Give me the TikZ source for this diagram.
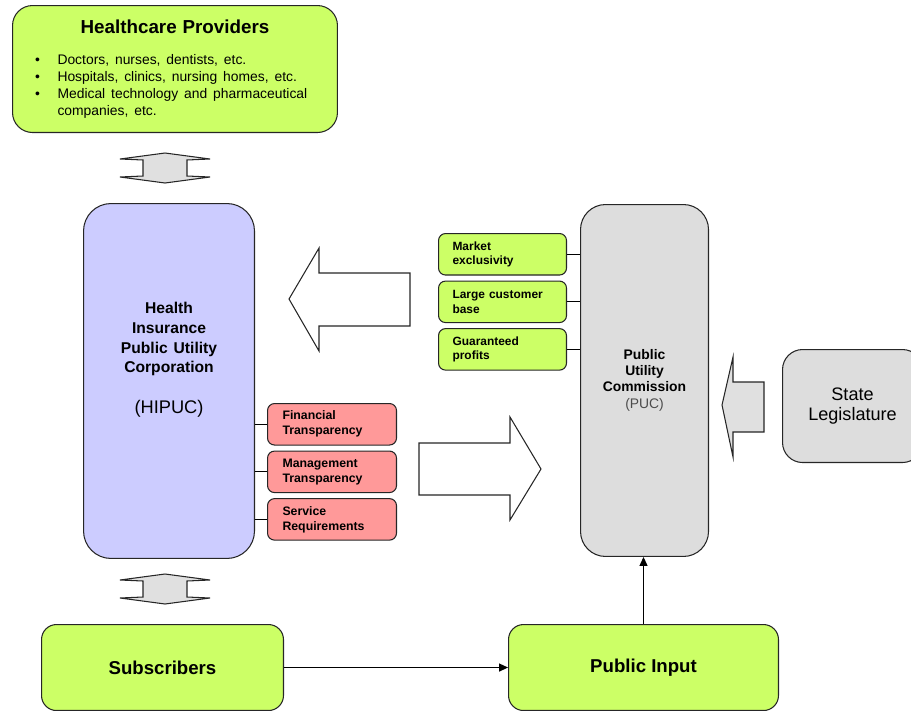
\documentclass[tikz,border=0pt]{standalone}
\usepackage{fontspec}
\setmainfont{Liberation Sans}
\usetikzlibrary{arrows.meta}
\usetikzlibrary{calc,positioning}

\definecolor{limegreen}{HTML}{CCFF66}
\definecolor{hipucblue}{HTML}{CCCCFF}
\definecolor{salmon}{HTML}{FF9999}
\definecolor{puccgray}{HTML}{DDDDDD}
\definecolor{shapegray}{HTML}{E0E0E0}

\begin{document}
\begin{tikzpicture}[x=0.02cm, y=-0.02cm,
        bigbox/.style={rectangle, draw=black!85, line width=0.6pt, rounded corners=0.4cm,
        anchor=north west, inner sep=0pt, text=black},
        smallbox/.style={rectangle, draw=black!85, line width=0.6pt, rounded corners=0.14cm,
        minimum height=0.83cm, inner ysep=0pt, align=left},
        greenbox/.style={smallbox, fill=limegreen, minimum width=2.56cm, text width=2.0cm,
        inner xsep=0.28cm, font=\fontsize{6.8}{8.2}\selectfont\bfseries},
        redbox/.style={smallbox, fill=salmon, minimum width=2.58cm, text width=1.98cm,
        inner xsep=0.3cm, font=\fontsize{7}{8.5}\selectfont\bfseries},
        fatarrow/.style={draw=black!85, line width=0.6pt, fill=white},
        dblarrow/.style={draw=black!85, line width=0.6pt, fill=shapegray},
        link/.style={draw=black, line width=0.6pt},
        node distance=0.1cm]
    \useasboundingbox (0,0) rectangle (911,710);
    \clip (0,0) rectangle (911,710);

    % providers
    \node [bigbox, fill=limegreen, minimum width=6.5cm, minimum height=2.54cm, text width=5.6cm] (prov) at (12,5)
    {
        {\centering\fontsize{10.7}{13}\selectfont\bfseries Healthcare Providers\par}
        \vspace{8pt}
        {\raggedright\fontsize{7.9}{9.6}\selectfont
        \makebox[0.45cm][l]{\textbullet}Doctors, nurses, dentists, etc.\par
        \makebox[0.45cm][l]{\textbullet}Hospitals, clinics, nursing homes, etc.\par
        \makebox[0.45cm][l]{\textbullet}Medical technology and pharmaceutical\\
        \hspace*{0.45cm}companies, etc.\par}
    };

    % corporation
    \node [bigbox, fill=hipucblue, rounded corners=0.55cm, minimum width=3.42cm, minimum height=7.1cm, text width=3.2cm] (hipuc) at (83,203)
    {
        {\centering\fontsize{8.9}{11.3}\selectfont\bfseries Health\\Insurance\\Public Utility\\Corporation\par}
        \vspace{11pt}
        {\centering\fontsize{10.4}{12}\selectfont (HIPUC)\par}
        \vspace*{0.86cm}
    };

    % commission
    \node [bigbox, fill=puccgray, rounded corners=0.5cm, minimum width=2.56cm, minimum height=7.04cm, align=center,
        font=\fontsize{7.9}{9.1}\selectfont\bfseries] (puc) at (580,204)
        {Public\\Utility\\Commission\\[0.5pt]{\mdseries\color{black!70}(PUC)}};

    \node [bigbox, fill=puccgray, minimum width=2.8cm, minimum height=2.26cm, align=center,
        font=\fontsize{10.3}{11.9}\selectfont] (legis) at (782,349) {State\\Legislature};

    \node [bigbox, fill=limegreen, rounded corners=0.3cm, minimum width=4.84cm, minimum height=1.72cm,
        font=\fontsize{10.6}{12}\selectfont\bfseries] (subs) at (41,624) {Subscribers};
    \node [bigbox, fill=limegreen, rounded corners=0.3cm, minimum width=5.4cm, minimum height=1.72cm,
        font=\fontsize{10.6}{12}\selectfont\bfseries] (pubin) at (508,624) {Public Input};

    % benefits and duties
    \node [greenbox, anchor=north west] (excl) at (438,233) {Market\\exclusivity};
    \node [greenbox, below=of excl] (base) {Large customer\\base};
    \node [greenbox, below=of base] (profit) {Guaranteed\\profits};

    \node [redbox, anchor=north west] (fin) at (267,403) {Financial\\Transparency};
    \node [redbox, below=of fin] (mgmt) {Management\\Transparency};
    \node [redbox, below=of mgmt] (serv) {Service\\Requirements};

    \foreach \n in {excl,base,profit} \draw [link] (\n.east) -- (\n.east -| puc.west);
    \foreach \n in {fin,mgmt,serv} \draw [link] (\n.west) -- (\n.west -| hipuc.east);

    % block arrows
    \draw [fatarrow] (289,299) -- (319,248) -- (319,273) -- (410,273) -- (410,326) -- (319,326) -- (319,351) -- cycle;
    \draw [fatarrow] (541,469) -- (510,417) -- (510,443) -- (419,443) -- (419,495) -- (510,495) -- (510,520) -- cycle;
    \draw [dblarrow] (722,405) -- (733,357) -- (733,382) -- (764,382) -- (764,432) -- (733,432) -- (733,457) -- cycle;
    \foreach \cy in {168,589}
        \draw [dblarrow, shift={(165,\cy)}] (0,-15) -- (45,-9) -- (22,-8) -- (22,8) -- (45,9) -- (0,15)
            -- (-45,9) -- (-22,8) -- (-22,-8) -- (-45,-9) -- cycle;

    \draw [link, -{Triangle[length=5pt,width=4.5pt]}] (subs.east) -- (subs.east -| pubin.west);
    \draw [link, -{Triangle[length=5pt,width=4.5pt]}] (pubin.north) -- (pubin.north |- puc.south);
\end{tikzpicture}
\end{document}
